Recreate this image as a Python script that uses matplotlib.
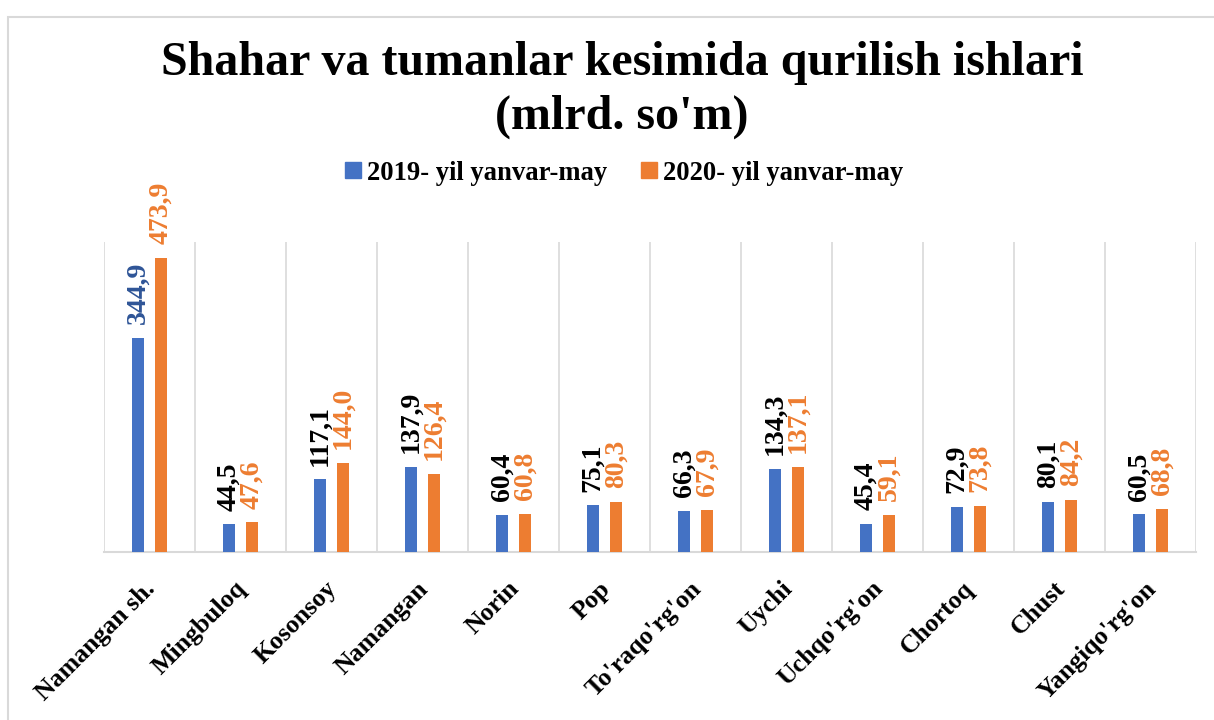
import numpy as np
import matplotlib
matplotlib.use('Agg')
import matplotlib.pyplot as plt
import matplotlib.transforms as mtransforms
from matplotlib.lines import Line2D
from matplotlib.patches import Rectangle

# Data
districts = ['Namangan sh.', 'Mingbuloq', 'Kosonsoy', 'Namangan', 'Norin', 'Pop',
             "To'raqo'rg'on", 'Uychi', "Uchqo'rg'on", 'Chortoq', 'Chust', "Yangiqo'rg'on"]
values_2019 = [344.9, 44.5, 117.1, 137.9, 60.4, 75.1, 66.3, 134.3, 45.4, 72.9, 80.1, 60.5]
values_2020 = [473.9, 47.6, 144.0, 126.4, 60.8, 80.3, 67.9, 137.1, 59.1, 73.8, 84.2, 68.8]
series_names = ['2019- yil yanvar-may', '2020- yil yanvar-may']

blue = '#4472C4'
orange = '#ED7D31'
grid_gray = '#D9D9D9'
serif = ['Liberation Serif', 'DejaVu Serif']

fig = plt.figure(figsize=(12.14, 7.2), dpi=100)
ax = fig.add_axes([104 / 1214, 1 - 552 / 720, 1092 / 1214, 310 / 720])

# Outer chart border
fig.patches.append(Rectangle((8 / 1214, -0.05), 1.1, 1 - 17 / 720 + 0.05,
                             transform=fig.transFigure, fill=False,
                             edgecolor=grid_gray, lw=1.5, zorder=0))

x = np.arange(len(districts))
w = 0.13
off = 0.126
ax.bar(x - off, values_2019, width=w, color=blue, zorder=3)
ax.bar(x + off, values_2020, width=w, color=orange, zorder=3)

# Value labels
for i, (a, b) in enumerate(zip(values_2019, values_2020)):
    col_a = '#2F5597' if i == 0 else 'black'
    ax.annotate(f'{a:.1f}'.replace('.', ','), (x[i] - off, a), xytext=(0, 10),
                textcoords='offset points', rotation=90, ha='center', va='bottom',
                fontsize=20, fontweight='bold', family=serif, color=col_a, zorder=4)
    ax.annotate(f'{b:.1f}'.replace('.', ','), (x[i] + off, b), xytext=(0, 10),
                textcoords='offset points', rotation=90, ha='center', va='bottom',
                fontsize=20, fontweight='bold', family=serif, color=orange, zorder=4)

ax.set_xlim(-0.5, len(districts) - 0.5)
ax.set_ylim(0, 500)
for b in np.arange(-0.5, len(districts), 1.0):
    ax.axvline(b, color=grid_gray, lw=1.2, zorder=1)

for s in ['top', 'right', 'left']:
    ax.spines[s].set_visible(False)
ax.spines['bottom'].set_color(grid_gray)
ax.spines['bottom'].set_linewidth(1.5)
ax.set_yticks([])
ax.set_xticks(x)
ax.set_xticklabels(districts, rotation=45, ha='right', rotation_mode='anchor',
                   fontsize=18.5, fontweight='bold', family=serif)
ax.tick_params(axis='x', length=0, pad=18)
shift = mtransforms.ScaledTranslation(-6 / 100, 0, fig.dpi_scale_trans)
for lbl in ax.get_xticklabels():
    lbl.set_transform(lbl.get_transform() + shift)

# Title
fig.text(622 / 1214, 1 - 41 / 720, "Shahar va tumanlar kesimida qurilish ishlari\n(mlrd. so'm)",
         ha='center', va='top', fontsize=34.6, fontweight='bold', family=serif,
         linespacing=1.27)

# Legend
handles = [Line2D([], [], ls='none', marker='s', markersize=11, color=c) for c in (blue, orange)]
fig.legend(handles, series_names, loc='center', bbox_to_anchor=(624 / 1214, 1 - 173 / 720),
           ncol=2, frameon=False, handlelength=0.6, handletextpad=0.2, columnspacing=1.3,
           prop={'family': serif, 'weight': 'bold', 'size': 19.2})

fig.savefig('out.png', dpi=100)
